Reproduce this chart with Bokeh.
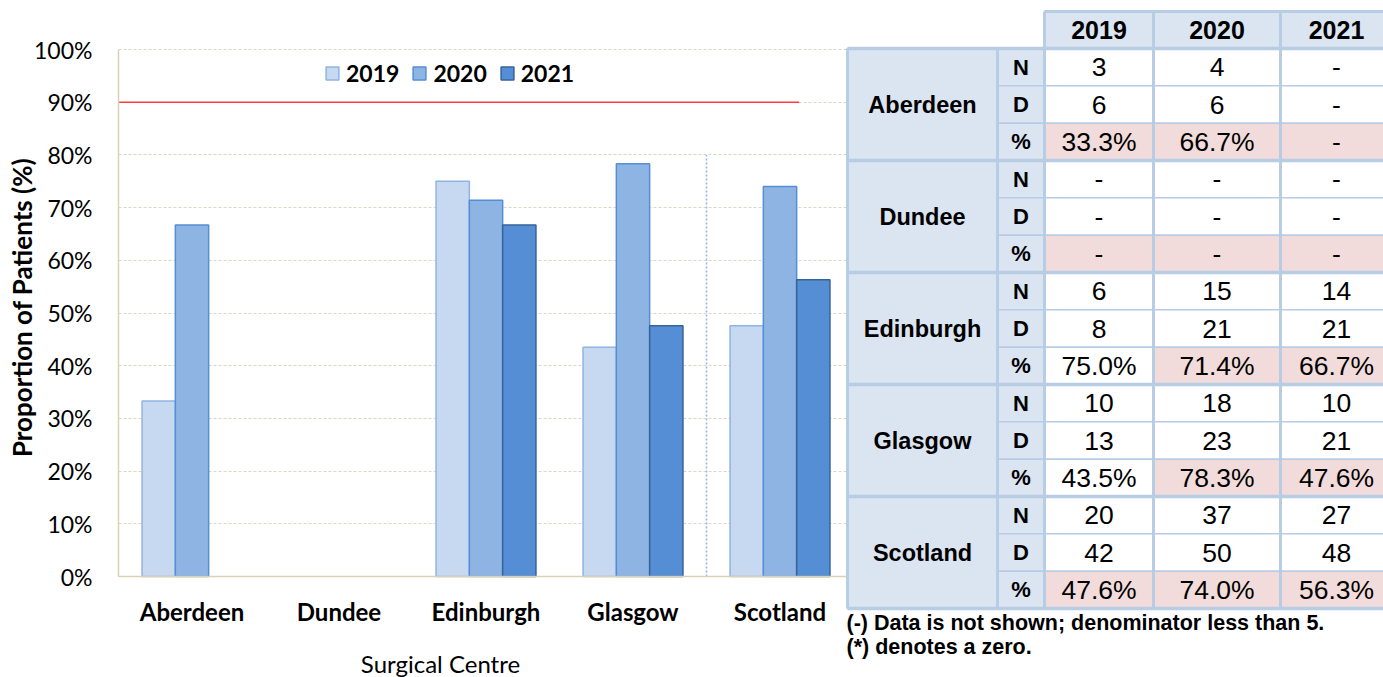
import math
from bokeh.plotting import figure
from bokeh.models import (Range1d, FixedTicker, PrintfTickFormatter, Legend,
                          LegendItem, ColumnDataSource, Label)
from bokeh.embed import file_html
from bokeh.resources import INLINE
from bokeh.core.properties import value

# ---------------- data ----------------
centres = ["Aberdeen", "Dundee", "Edinburgh", "Glasgow", "Scotland"]
years = ["2019", "2020", "2021"]
pct_2019 = [33.3, None, 75.0, 43.5, 47.6]
pct_2020 = [66.7, None, 71.4, 78.3, 74.0]
pct_2021 = [None, None, 66.7, 47.6, 56.3]
n_2019 = [3, None, 6, 10, 20]
n_2020 = [4, None, 15, 18, 37]
n_2021 = [None, None, 14, 10, 27]
d_2019 = [6, None, 8, 13, 42]
d_2020 = [6, None, 21, 23, 50]
d_2021 = [None, None, 21, 21, 48]
below_2019 = [True, True, False, False, True]
below_2020 = [True, True, True, True, True]
below_2021 = [True, True, True, True, True]
target = 90
y_ticks = [0, 10, 20, 30, 40, 50, 60, 70, 80, 90, 100]
row_letters = ["N", "D", "%"]
footnotes = ["(-) Data is not shown; denominator less than 5.",
             "(*) denotes a zero."]
x_title = "Surgical Centre"
y_title = "Proportion of Patients (%)"

pcts = [pct_2019, pct_2020, pct_2021]
ns = [n_2019, n_2020, n_2021]
ds = [d_2019, d_2020, d_2021]
belows = [below_2019, below_2020, below_2021]

# ---------------- styles / layout ----------------
fills = ["#c6d9f1", "#8eb4e3", "#558ed5"]
lines = ["#8eb4e3", "#558ed5", "#35639a"]
CHART_FONT = "Lato"
TABLE_FONT = "Liberation Sans"
AXIS_COL = "#d9d1b6"
GRID_COL = "#dcd6c0"

W, H = 1383, 677            # figure size (page has no margin)
PX0, PY0 = 0, 0
PX1, PY1 = PX0 + W, PY0 + H
axis_x_px, axis_y_px = 118, 576   # page position of chart origin
cat_px = 147.0                    # pixels per category
pct_px = 5.27                     # pixels per percent
chart_x_end = (846 - axis_x_px) / cat_px
bar_w = 33.3 / cat_px
target_end = 4.63

x_range = Range1d(-(axis_x_px - PX0) / cat_px, (PX1 - axis_x_px) / cat_px)
y_range = Range1d(-(PY1 - axis_y_px) / pct_px, (axis_y_px - PY0) / pct_px)

p = figure(width=W, height=H, output_backend="svg", toolbar_location=None,
           x_range=x_range, y_range=y_range, min_border=0)
p.outline_line_color = None
p.title.visible = False
p.extra_x_ranges = {"px": Range1d(PX0, PX1)}
p.extra_y_ranges = {"py": Range1d(PY1, PY0)}

# grid
p.xgrid.visible = False
yg = p.ygrid[0]
if "cross_bounds" in yg.properties():
    yg.ticker = FixedTicker(ticks=y_ticks[1:])
    yg.cross_bounds = (0, chart_x_end)
    yg.grid_line_color = GRID_COL
    yg.grid_line_dash = "3 2"
else:
    yg.visible = False
    gy = y_ticks[1:]
    p.segment(x0=[0] * len(gy), x1=[chart_x_end] * len(gy), y0=gy, y1=gy,
              line_color=GRID_COL, line_dash="3 2", line_width=1)

# bars
renderers = []
for j, vals in enumerate(pcts):
    xs = [i + 0.5 + (j - 1) * bar_w for i, v in enumerate(vals) if v is not None]
    tops = [v for v in vals if v is not None]
    r = p.vbar(x=xs, top=tops, bottom=0, width=bar_w, fill_color=fills[j],
               line_color=lines[j], line_width=1.5)
    renderers.append(r)

p.line(x=[0, target_end], y=[target, target], line_color="#ff3b3b", line_width=1.6)
p.segment(x0=[4], y0=[0], x1=[4], y1=[80], line_color="#8eb4e3",
          line_width=1.5, line_dash="2 2")

# axes (drawn at the chart origin)
p.yaxis.ticker = FixedTicker(ticks=y_ticks)
p.yaxis.formatter = PrintfTickFormatter(format="%d%%")
p.xaxis.ticker = FixedTicker(ticks=[i + 0.5 for i in range(len(centres))])
p.xaxis.major_label_overrides = {i + 0.5: c for i, c in enumerate(centres)}
p.xaxis.fixed_location = 0
p.yaxis.fixed_location = 0
p.xaxis.bounds = (0, chart_x_end)
p.yaxis.bounds = (0, 100)
for ax in (p.xaxis, p.yaxis):
    ax.axis_line_color = AXIS_COL
    ax.axis_line_width = 1.5
    ax.major_tick_line_color = None
    ax.minor_tick_line_color = None
    ax.major_tick_out = 0
    ax.major_tick_in = 0
    ax.minor_tick_out = 0
    ax.minor_tick_in = 0
    ax.major_label_text_font = CHART_FONT
    ax.major_label_text_color = "black"
p.yaxis.major_label_text_font_size = "23px"
p.yaxis.major_label_standoff = 26
p.xaxis.major_label_text_font_size = "24px"
p.xaxis.major_label_text_font_style = "bold"
p.xaxis.major_label_standoff = 20

p.add_layout(Label(x=440, y=663, x_range_name="px", y_range_name="py", text=x_title,
                   text_align="center", text_baseline="middle", text_font=CHART_FONT,
                   text_font_size="24px", text_color="black"))
p.add_layout(Label(x=21, y=307, x_range_name="px", y_range_name="py", text=y_title,
                   angle=math.pi / 2, text_align="center", text_baseline="middle",
                   text_font=CHART_FONT, text_font_size="26px",
                   text_font_style="bold", text_color="black"))

legend = Legend(items=[LegendItem(label=y, renderers=[r]) for y, r in zip(years, renderers)],
                orientation="horizontal", location=(324, 590),
                glyph_width=16, glyph_height=16, label_standoff=6, spacing=12,
                padding=0, margin=0, border_line_color=None,
                background_fill_alpha=0, label_text_font=CHART_FONT,
                label_text_font_size="23px", label_text_font_style="bold",
                label_text_color="black")
p.add_layout(legend)

# ---------------- table (page-pixel ranges) ----------------
col_edges = [847, 997, 1044, 1153, 1280, 1392]
head_top, head_bot = 11, 48
body_bot = 608
rh = (body_bot - head_bot) / 15.0
HEAD_FILL = "#dbe5f1"
PINK = "#f2dcdb"
BORDER = "#b8cce4"

q = dict(left=[], right=[], top=[], bottom=[], fill=[])
def add_cell(l, r, t, b, f):
    q["left"].append(l); q["right"].append(r); q["top"].append(t)
    q["bottom"].append(b); q["fill"].append(f)

def add_txt(store, x, y, t):
    store["x"].append(x); store["y"].append(y); store["text"].append(t)

head_txt = dict(x=[], y=[], text=[])
lab_txt = dict(x=[], y=[], text=[])
let_txt = dict(x=[], y=[], text=[])
dat_txt = dict(x=[], y=[], text=[])

for j, yr in enumerate(years):
    l, r = col_edges[2 + j], col_edges[3 + j]
    add_cell(l, r, head_top, head_bot, HEAD_FILL)
    add_txt(head_txt, (l + r) / 2, (head_top + head_bot) / 2, yr)

for g, c in enumerate(centres):
    gt = head_bot + 3 * g * rh
    add_cell(col_edges[0], col_edges[1], gt, gt + 3 * rh, HEAD_FILL)
    add_txt(lab_txt, (col_edges[0] + col_edges[1]) / 2, gt + 1.5 * rh, c)
    for k, letter in enumerate(row_letters):
        t = gt + k * rh
        add_cell(col_edges[1], col_edges[2], t, t + rh, HEAD_FILL)
        add_txt(let_txt, (col_edges[1] + col_edges[2]) / 2, t + rh / 2, letter)
        for j in range(3):
            l, r = col_edges[2 + j], col_edges[3 + j]
            if k == 0:
                v = ns[j][g]; s = "-" if v is None else str(v); f = "white"
            elif k == 1:
                v = ds[j][g]; s = "-" if v is None else str(v); f = "white"
            else:
                v = pcts[j][g]; s = "-" if v is None else "%.1f%%" % v
                f = PINK if belows[j][g] else "white"
            add_cell(l, r, t, t + rh, f)
            add_txt(dat_txt, (l + r) / 2, t + rh / 2, s)

T = dict(x_range_name="px", y_range_name="py")
p.quad(left="left", right="right", top="top", bottom="bottom", fill_color="fill",
       line_color=BORDER, line_width=1.5, source=ColumnDataSource(q), **T)

hy = [head_bot + 3 * g * rh for g in range(len(centres) + 1)]
p.segment(x0=[col_edges[0]] * len(hy), x1=[col_edges[-1]] * len(hy), y0=hy, y1=hy,
          line_color=BORDER, line_width=3.5, **T)
p.segment(x0=[col_edges[2]], x1=[col_edges[-1]], y0=[head_top], y1=[head_top],
          line_color=BORDER, line_width=3, **T)
vx = col_edges[:5]
vtop = [head_bot, head_bot, head_top, head_top, head_top]
p.segment(x0=vx, x1=vx, y0=vtop, y1=[body_bot] * 5, line_color=BORDER,
          line_width=3, **T)

common = dict(text_align="center", text_baseline="middle", text_color="black",
              text_font=value(TABLE_FONT), **T)
p.text(x="x", y="y", text="text", source=ColumnDataSource(head_txt),
       text_font_size="25px", text_font_style="bold", **common)
p.text(x="x", y="y", text="text", source=ColumnDataSource(lab_txt),
       text_font_size="23.5px", text_font_style="bold", **common)
p.text(x="x", y="y", text="text", source=ColumnDataSource(let_txt),
       text_font_size="22px", text_font_style="bold", **common)
p.text(x="x", y="y", text="text", source=ColumnDataSource(dat_txt),
       text_font_size="26.5px", text_font_style="normal", **common)

p.text(x=[846, 846], y=[622, 646], text=footnotes, text_align="left",
       text_baseline="middle", text_color="black", text_font=value(TABLE_FONT),
       text_font_size="21.5px", text_font_style="bold", **T)

open("out.html", "w").write(file_html(p, INLINE))
